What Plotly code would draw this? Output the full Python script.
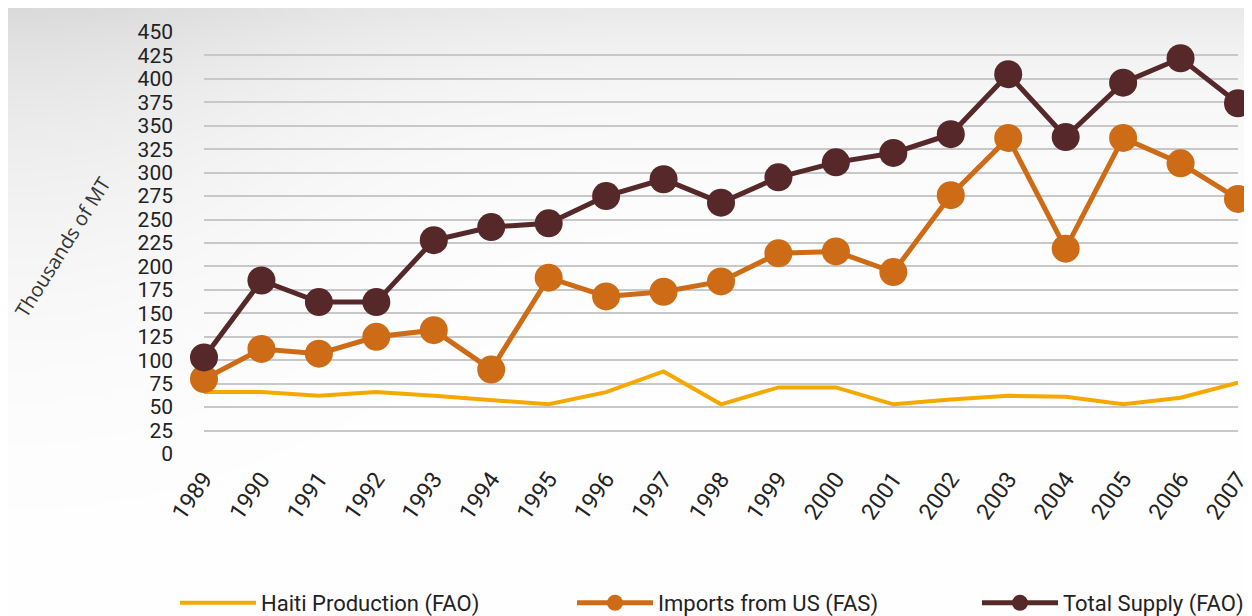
import base64
import struct
import zlib

import numpy as np
import plotly.graph_objects as go

years = list(range(1989, 2008))
haiti_production = [66, 66, 62, 66, 62, 58, 53, 66, 88, 53, 71, 71, 53, 58, 62, 61, 53, 60, 76]
imports_us = [80, 112, 107, 125, 132, 90, 188, 168, 173, 184, 214, 216, 194, 276, 337, 219, 337, 310, 272]
total_supply = [103, 185, 162, 162, 228, 242, 246, 275, 293, 268, 295, 311, 321, 341, 405, 338, 396, 422, 374]
y_ticks = list(range(0, 451, 25))

C_YEL = "#F5A800"
C_ORG = "#CD6B16"
C_BRN = "#56282A"
FONT = "Roboto, 'Liberation Sans Narrow', sans-serif"

# the page body adds an 8px offset; work in screen pixels and subtract it
OFF = 8
W, H = 1252 - OFF, 616 - OFF
ML, MT = 204 - OFF, 32 - OFF
PW = 1238 - 204
PH = 454 - 32
MR = W - ML - PW
MB = H - MT - PH


def background_png():
    w, h = W // 4, H // 4
    yy, xx = np.mgrid[0:h, 0:w].astype(float)
    x = xx * 4 + OFF
    y = yy * 4 + OFF
    d = 22 * np.exp(-y / 90.0) + 16 * np.exp(-(x / 330.0) ** 2 - (y / 300.0) ** 2)
    v = np.clip(255 - d, 0, 255).astype(np.uint8)
    rgb = np.stack([v, v, v], axis=-1)
    raw = b"".join(b"\x00" + rgb[r].tobytes() for r in range(h))

    def chunk(tag, data):
        c = struct.pack(">I", len(data)) + tag + data
        return c + struct.pack(">I", zlib.crc32(tag + data) & 0xFFFFFFFF)

    png = b"\x89PNG\r\n\x1a\n" + chunk(b"IHDR", struct.pack(">IIBBBBB", w, h, 8, 2, 0, 0, 0))
    png += chunk(b"IDAT", zlib.compress(raw, 9)) + chunk(b"IEND", b"")
    return "data:image/png;base64," + base64.b64encode(png).decode()


fig = go.Figure()
fig.add_trace(go.Scatter(x=years, y=haiti_production, name="Haiti Production (FAO)",
                         mode="lines", line=dict(color=C_YEL, width=4), cliponaxis=False,
                         legend="legend"))
fig.add_trace(go.Scatter(x=years, y=imports_us, name="Imports from US (FAS)",
                         mode="lines+markers", line=dict(color=C_ORG, width=5),
                         marker=dict(symbol="circle", size=28, color=C_ORG), cliponaxis=False,
                         legend="legend2"))
fig.add_trace(go.Scatter(x=years, y=total_supply, name="Total Supply (FAO)",
                         mode="lines+markers", line=dict(color=C_BRN, width=5),
                         marker=dict(symbol="circle", size=28, color=C_BRN), cliponaxis=False,
                         legend="legend3"))


def legend_at(sx):
    # sx, sy: screen pixels
    sy = 603
    return dict(x=(sx - OFF - ML) / PW, xanchor="left",
                y=(MT + PH - (sy - OFF)) / PH, yanchor="middle",
                orientation="h", font=dict(family=FONT, size=22, color="#222"),
                bgcolor="rgba(0,0,0,0)", itemwidth=76)


fig.update_layout(
    width=W, height=H,
    margin=dict(l=ML, r=MR, t=MT, b=MB, autoexpand=False),
    paper_bgcolor="white", plot_bgcolor="rgba(0,0,0,0)",
    images=[dict(source=background_png(), xref="paper", yref="paper",
                 x=-ML / PW, y=1 + MT / PH, sizex=W / PW, sizey=H / PH,
                 xanchor="left", yanchor="top", sizing="stretch", layer="below")],
    showlegend=True,
    legend=legend_at(175),
    legend2=legend_at(572),
    legend3=legend_at(977),
    xaxis=dict(range=[1989, 2007], tickmode="array", tickvals=years,
               ticktext=[str(y) for y in years], tickangle=-55, showgrid=False,
               zeroline=False, showline=False, ticks="", automargin=False,
               ticklabelstandoff=6, ticklabeloverflow="allow",
               tickfont=dict(family=FONT, size=23, color="#222")),
    yaxis=dict(range=[0, 450], tickmode="array", tickvals=y_ticks, showgrid=True,
               gridcolor="#c8c8c8", gridwidth=2, zeroline=False, showline=False,
               ticklabelstandoff=30, automargin=False, ticklabeloverflow="allow",
               tickfont=dict(family=FONT, size=21, color="#222")),
    annotations=[dict(text="Thousands of MT", xref="paper", yref="paper",
                      x=(62 - OFF - ML) / PW, y=(MT + PH - (247 - OFF)) / PH,
                      xanchor="center", yanchor="middle",
                      showarrow=False, textangle=-58,
                      font=dict(family="Open Sans, Lato, sans-serif", size=20, color="#333"))],
)

fig.write_html("out.html")
